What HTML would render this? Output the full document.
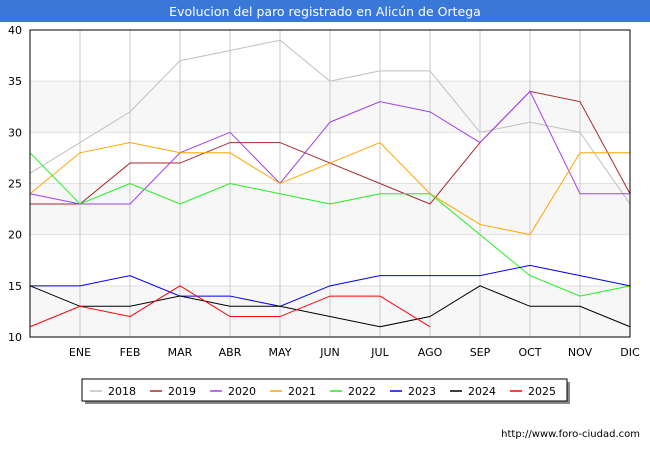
<!DOCTYPE html>
<html><head><meta charset="utf-8"><style>
body{margin:0;width:650px;height:450px;background:#fff;font-family:"DejaVu Sans","Liberation Sans",sans-serif;overflow:hidden}
</style></head><body>
<svg width="650" height="450" xmlns="http://www.w3.org/2000/svg">
<rect x="0" y="0" width="650" height="22" fill="#3a78d8"/>
<text x="325" y="16" text-anchor="middle" fill="#fff" font-size="12.5">Evolucion del paro registrado en Alicún de Ortega</text>
<g id="plot"></g>
<text x="640" y="437" text-anchor="end" font-size="10" fill="#000">http://www.foro-ciudad.com</text>
</svg>
<script>
const months=["","ENE","FEB","MAR","ABR","MAY","JUN","JUL","AGO","SEP","OCT","NOV","DIC"];
const yTicks=[10,15,20,25,30,35,40];
const seriesNames=["2018","2019","2020","2021","2022","2023","2024","2025"];
const colors=["#c0c0c0","#a52a2a","#a040f0","#ffa500","#22ee22","#0000ee","#000000","#ff0000"];
const s2018=[26,29,32,37,38,39,35,36,36,30,31,30,23];
const s2019=[23,23,27,27,29,29,27,25,23,29,34,33,24];
const s2020=[24,23,23,28,30,25,31,33,32,29,34,24,24];
const s2021=[24,28,29,28,28,25,27,29,24,21,20,28,28];
const s2022=[28,23,25,23,25,24,23,24,24,20,16,14,15];
const s2023=[15,15,16,14,14,13,15,16,16,16,17,16,15];
const s2024=[15,13,13,14,13,13,12,11,12,15,13,13,11];
const s2025=[11,13,12,15,12,12,14,14,11];
const allSeries=[s2018,s2019,s2020,s2021,s2022,s2023,s2024,s2025];
const NS="http://www.w3.org/2000/svg";
const L=30,R=630,T=30,B=337;
const x=i=>L+(R-L)*i/(months.length-1);
const y=v=>B-(v-10)/(40-10)*(B-T);
const g=document.getElementById('plot');
function mk(t,a){const e=document.createElementNS(NS,t);for(const k in a)e.setAttribute(k,a[k]);g.appendChild(e);return e;}
for(let i=0;i<yTicks.length-1;i++){
 if(i%2===0){const r=mk('rect',{x:L,y:y(yTicks[i+1]),width:R-L,height:y(yTicks[i])-y(yTicks[i+1]),fill:'#f7f7f7'});
 
 }
}
yTicks.forEach(v=>{
 const l=mk('line',{x1:L,x2:R,y1:y(v),y2:y(v),stroke:'#e0e0e0'});
 
 
 const t=mk('text',{x:L-8,y:y(v)+4,'text-anchor':'end','font-size':'11'});t.textContent=v;
 
 
});
months.forEach((m,i)=>{
 const l=mk('line',{x1:x(i),x2:x(i),y1:T,y2:B,stroke:'#c8c8c8'});
 
 
 if(m){const t=mk('text',{x:x(i),y:356,'text-anchor':'middle','font-size':'11'});t.textContent=m;
 
 }
});
allSeries.forEach((s,k)=>{
 const p=mk('polyline',{points:s.map((v,i)=>x(i)+','+y(v)).join(' '),fill:'none',stroke:colors[k],'stroke-width':'1'});
 
 
});
const fr=mk('rect',{x:L,y:T,width:R-L,height:B-T,fill:'none',stroke:'#000'});


const sh=mk('rect',{x:85,y:382,width:485,height:22,fill:'#888'});


const lb=mk('rect',{x:82,y:379,width:485,height:22,fill:'#fff',stroke:'#000'});


seriesNames.forEach((n,k)=>{
 const lx=90+k*60;
 const l=mk('line',{x1:lx,x2:lx+12,y1:391,y2:391,stroke:colors[k],'stroke-width':'1.5'});
 
 
 const t=mk('text',{x:lx+18,y:395,'font-size':'11'});t.textContent=n;
 
 
});
</script>
</body></html>
